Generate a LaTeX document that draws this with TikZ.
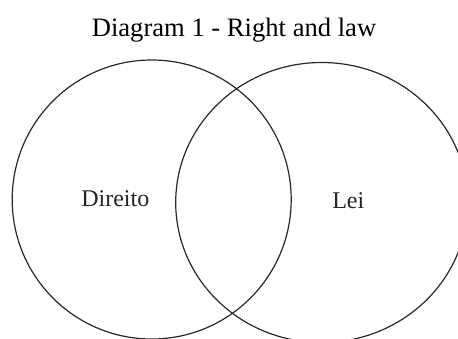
\documentclass[tikz,border=0pt]{standalone}
\usepackage{fontspec}
\setmainfont{Liberation Serif}
\usetikzlibrary{positioning, shapes.geometric}
\definecolor{lineGray}{RGB}{40,40,40}

\begin{document}
\begin{tikzpicture}[
        x=0.5pt, y=-0.5pt,
        setcircle/.style={circle, draw=lineGray, line width=0.6pt, inner sep=0pt, minimum size=139.5pt},
        setellipse/.style={ellipse, draw=lineGray, line width=0.6pt, inner sep=0pt, minimum width=146pt, minimum height=140pt},
        title/.style={font=\fontsize{13.3}{16}\selectfont, anchor=base},
        setlabel/.style={font=\fontsize{12}{14}\selectfont, text=black!85, anchor=base},
    ]

    % ===== Frame =====
    \useasboundingbox (0,0) rectangle (458,338);
    \clip (0,0) rectangle (458,338);

    % ===== Title =====
    \node[title] (T) at (234,36) {Diagram 1 - Right and law};

    % ===== Sets =====
    \node[setcircle] (DIR) at (151.7,199.5) {};
    \node[setellipse] (LEI) at (321.7,202.5) {};

    % ===== Labels =====
    \node[setlabel] (LDIR) at (115.3,206.7) {Direito};
    \node[setlabel] (LLEI) at (348.3,208.3) {Lei};

\end{tikzpicture}
\end{document}
